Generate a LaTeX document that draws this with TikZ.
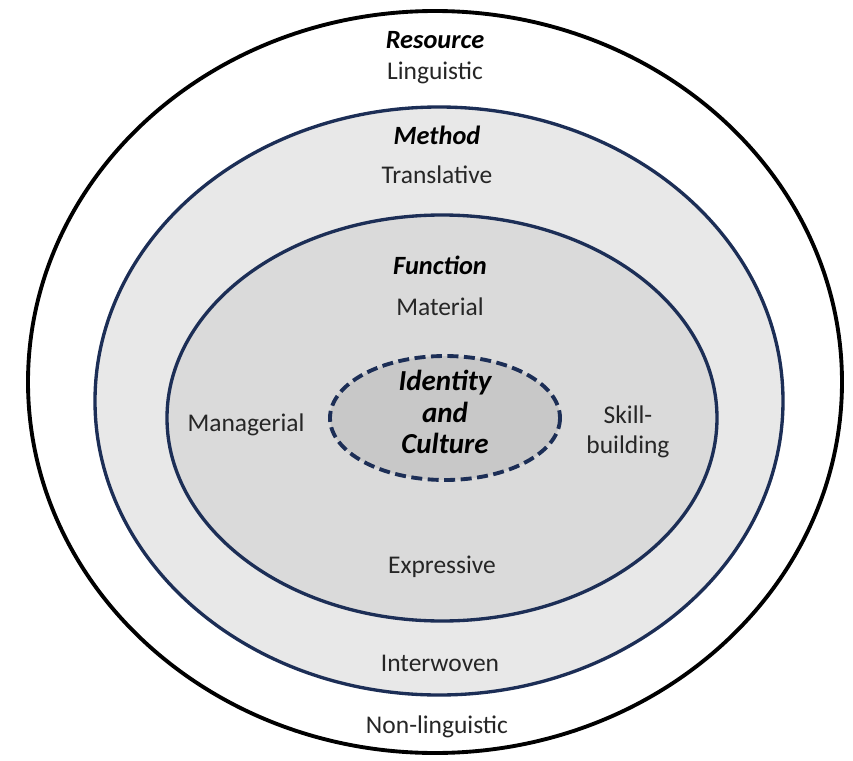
\documentclass[tikz,border=0pt]{standalone}
\usepackage{fontspec}
\setmainfont{Carlito}
\definecolor{navyring}{RGB}{28,46,86}
\definecolor{ringgray}{RGB}{232,232,232}
\definecolor{fungray}{RGB}{218,218,218}
\definecolor{coregray}{RGB}{200,200,200}
\tikzset{
  lbl/.style={font=\fontsize{14.5}{17}\selectfont, text=black!85, align=center, inner sep=1pt},
  head/.style={lbl, font=\fontsize{15}{17}\selectfont\bfseries\itshape, text=black},
}
\begin{document}
\begin{tikzpicture}[x=0.02cm, y=-0.02cm]
\useasboundingbox (0,0) rectangle (853,761);
% rings
\filldraw[fill=white, draw=black, line width=2.2pt] (435,382) ellipse [x radius=407, y radius=371];
\filldraw[fill=ringgray, draw=navyring, line width=1.9pt] (439,401) ellipse [x radius=344, y radius=294];
\filldraw[fill=fungray, draw=navyring, line width=1.9pt] (442,418) ellipse [x radius=275, y radius=203];
\filldraw[fill=coregray, draw=navyring, line width=2.2pt, dash pattern=on 0.22cm off 0.11cm] (445,418) ellipse [x radius=115, y radius=62];
% labels
\node[head] (resource) at (435,40) {Resource};
\node[lbl] (linguistic) at (435,73) {Linguistic};
\node[head] (method) at (437,135) {Method};
\node[lbl] (translative) at (437,175) {Translative};
\node[head] (function) at (440,265) {Function};
\node[lbl] (material) at (440,307) {Material};
\node[lbl] (managerial) at (246,425) {Managerial};
\node[lbl] (skill) at (628,432) {Skill-\\building};
\node[head, font=\fontsize{16.5}{18}\selectfont\bfseries\itshape] (identity) at (445,412) {Identity\\and\\Culture};
\node[lbl] (expressive) at (442,567) {Expressive};
\node[lbl] (interwoven) at (440,663) {Interwoven};
\node[lbl] (nonling) at (437,727) {Non-linguistic};
\end{tikzpicture}
\end{document}
